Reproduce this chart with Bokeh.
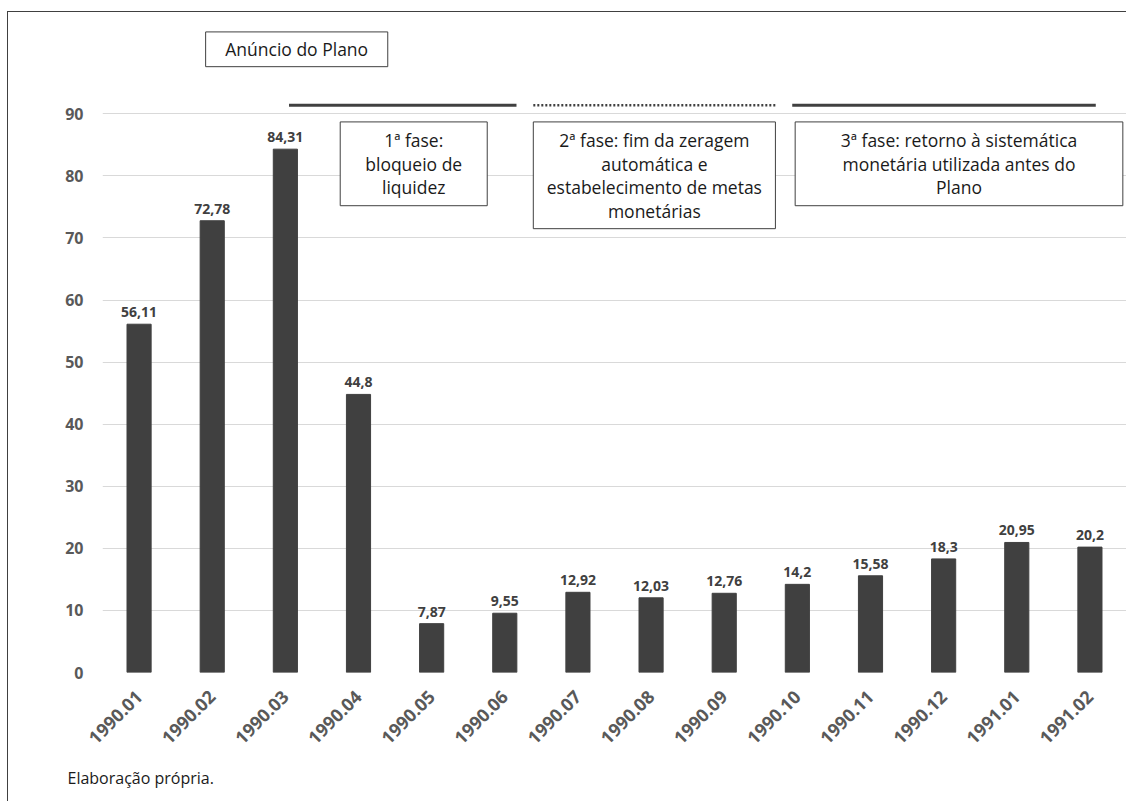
from bokeh.plotting import figure
from bokeh.models import Range1d, FixedTicker, Title
from bokeh.core.properties import value
from bokeh.embed import file_html
from bokeh.resources import INLINE

# Monthly series, Jan/1990 - Feb/1991
months = ["1990.01", "1990.02", "1990.03", "1990.04", "1990.05", "1990.06",
          "1990.07", "1990.08", "1990.09", "1990.10", "1990.11", "1990.12",
          "1991.01", "1991.02"]
rates = [56.11, 72.78, 84.31, 44.8, 7.87, 9.55, 12.92, 12.03, 12.76,
         14.2, 15.58, 18.3, 20.95, 20.2]
y_ticks = [0, 10, 20, 30, 40, 50, 60, 70, 80, 90]

announce_text = "Anúncio do Plano"
phase_texts = [
    "1ª fase:\nbloqueio de\nliquidez",
    "2ª fase: fim da zeragem\nautomática e\nestabelecimento de metas\nmonetárias",
    "3ª fase: retorno à sistemática\nmonetária utilizada antes do\nPlano",
]
source_note = "Elaboração própria."

FONT = "Open Sans"
DARK = "#404040"
GREY = "#595959"

idx = list(range(len(months)))
rate_labels = [f"{v:g}".replace(".", ",") for v in rates]

# left and top rules of the chart frame come from the element's CSS border;
# the right edge is clipped so only those two rules show
p = figure(width=1122, height=790, output_backend="svg", toolbar_location=None,
           x_range=Range1d(-0.5, len(months) - 0.5), y_range=Range1d(0, 105.2),
           min_border_left=94, min_border_right=4, min_border_top=7,
           min_border_bottom=130,
           styles={"margin-left": "7px", "margin-top": "11px",
                   "border-left": "1.5px solid #404040",
                   "border-top": "1.5px solid #404040",
                   "clip-path": "inset(0px 3px 0px 0px)"})
p.outline_line_color = None
p.background_fill_color = "white"
p.border_fill_color = "white"

# bars and value labels
p.vbar(x=idx, top=rates, width=0.33, fill_color=DARK, line_color=DARK)
p.text(x=idx, y=rates, text=rate_labels, text_align="center",
       text_baseline="bottom", y_offset=-7, text_font=value(FONT),
       text_font_size="14px", text_font_style="bold", text_color=DARK)

# axes
p.xaxis.ticker = FixedTicker(ticks=idx)
p.xaxis.major_label_overrides = {i: m for i, m in zip(idx, months)}
p.xaxis.major_label_orientation = 0.785398
p.xaxis.major_label_text_font = FONT
p.xaxis.major_label_text_font_size = "18px"
p.xaxis.major_label_text_font_style = "bold"
p.xaxis.major_label_text_color = GREY
p.xaxis.major_label_standoff = 15

p.yaxis.ticker = FixedTicker(ticks=y_ticks)
p.yaxis.major_label_text_font = FONT
p.yaxis.major_label_text_font_size = "16px"
p.yaxis.major_label_text_font_style = "bold"
p.yaxis.major_label_text_color = GREY
p.yaxis.major_label_standoff = 13

for ax in (p.xaxis, p.yaxis):
    ax.axis_line_color = None
    ax.major_tick_line_color = None
    ax.minor_tick_line_color = None

p.xgrid.grid_line_color = None
p.ygrid.grid_line_color = "#d9d9d9"
p.ygrid.grid_line_width = 1

# phase markers above the bars
p.line([2.05, 5.16], [91.4, 91.4], line_color=DARK, line_width=3)
p.line([5.39, 8.70], [91.4, 91.4], line_color=DARK, line_width=2.5,
       line_dash="2 2")
p.line([8.93, 13.08], [91.4, 91.4], line_color=DARK, line_width=3)

# text boxes
box_left = [0.91, 2.75, 5.39, 8.97]
box_right = [3.40, 4.76, 8.70, 13.45]
box_top = [103.2, 88.7, 88.7, 88.7]
box_bottom = [97.6, 75.2, 71.5, 75.2]
p.quad(left=box_left, right=box_right, top=box_top, bottom=box_bottom,
       fill_color="white", line_color=DARK, line_width=1)

box_texts = [announce_text] + phase_texts
p.text(x=[(l + r) / 2 for l, r in zip(box_left, box_right)],
       y=[(t + b) / 2 for t, b in zip(box_top, box_bottom)],
       text=box_texts, text_align="center", text_baseline="middle",
       text_font=value(FONT), text_font_size="17.5px", text_color="#1a1a1a",
       text_line_height=0.98)

# source note under the axis
p.add_layout(Title(text=source_note, align="left", offset=-35,
                   text_font=FONT, text_font_size="16px",
                   text_font_style="normal", text_color="#1a1a1a",
                   standoff=25), "below")

open("out.html", "w").write(file_html(p, INLINE))
